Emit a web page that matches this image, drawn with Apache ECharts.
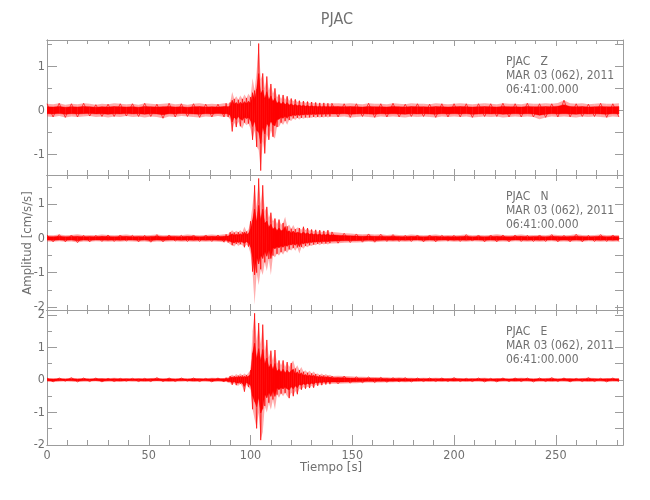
<!DOCTYPE html>
<html><head><meta charset="utf-8">
<script src="https://cdn.jsdelivr.net/npm/echarts@6/dist/echarts.min.js"></script>
<style>html,body{margin:0;padding:0;background:#fff}#c{width:650px;height:500px}</style>
</head><body><div id="c"></div>
<script>
// ---------- texts ----------
const stationTitle = 'PJAC';
const componentLabels = ['PJAC   Z', 'PJAC   N', 'PJAC   E'];
const dateLine = 'MAR 03 (062), 2011';
const timeLine = '06:41:00.000';
const xAxisTitle = 'Tiempo [s]';
const yAxisTitle = 'Amplitud [cm/s/s]';

// ---------- ticks ----------
const xTickLabels = [0, 50, 100, 150, 200, 250];
const xMinorTicks = [0,10,20,30,40,50,60,70,80,90,100,110,120,130,140,150,160,170,180,190,200,210,220,230,240,250,260,270,280];
const xExtent = [0, 283];
const yTickLabels = [[-1, 0, 1], [-2, -1, 0, 1], [-2, -1, 0, 1, 2]];
const yHalfTicks = [
  [-1, -0.5, 0, 0.5, 1, 1.5],
  [-2, -1.5, -1, -0.5, 0, 0.5, 1, 1.5],
  [-2, -1.5, -1, -0.5, 0, 0.5, 1, 1.5, 2]
];
const yExtents = [[-1.47, 1.6], [-2.09, 1.85], [-2.0, 2.15]];

// ---------- data: time (s) and amplitude envelope (max / min) per trace ----------
const times = [0,3,6,9,12,15,18,21,24,27,30,33,36,39,42,45,48,51,54,57,60,63,66,69,72,75,78,81,84,87,
88,89,90,91,92,93,94,95,96,97,98,99,100,101,102,103,104,105,106,107,108,109,110,111,112,113,114,115,116,117,118,119,120,121,122,123,124,125,126,127,128,129,130,131,132,133,134,135,136,137,138,139,140,
143,146,149,152,155,158,161,164,167,170,173,176,179,182,185,188,191,194,197,200,203,206,209,212,215,218,221,224,227,230,233,236,239,242,245,248,251,254,257,260,263,266,269,272,275,278,281];

const zHi = [0.15,0.14,0.16,0.13,0.15,0.14,0.16,0.15,0.13,0.15,0.14,0.16,0.15,0.14,0.15,0.13,0.16,0.15,0.14,0.15,0.16,0.14,0.15,0.13,0.15,0.16,0.14,0.15,0.14,0.16,
0.16,0.15,0.18,0.42,0.26,0.32,0.24,0.34,0.26,0.36,
0.28,0.38,0.3,0.73,0.45,0.88,1.52,0.7,0.84,0.5,
0.77,0.45,0.6,0.38,0.5,0.3,0.36,0.26,0.35,0.24,
0.32,0.22,0.27,0.2,0.25,0.19,0.22,0.18,0.21,0.17,
0.2,0.16,0.19,0.16,0.18,0.15,0.17,0.15,0.17,0.15,
0.16,0.15,0.16,
0.16,0.15,0.16,0.15,0.14,0.16,0.15,0.15,0.14,0.16,0.15,0.14,0.16,0.15,0.15,0.14,0.16,0.15,0.14,0.15,0.16,0.15,0.14,0.15,0.16,0.15,0.14,0.16,0.15,0.15,0.14,0.16,0.15,0.15,0.16,0.15,0.17,0.23,0.16,0.15,0.16,0.14,0.15,0.16,0.15,0.15,0.16];
const zLo = [-0.14,-0.15,-0.13,-0.16,-0.14,-0.15,-0.14,-0.13,-0.15,-0.14,-0.16,-0.14,-0.15,-0.13,-0.15,-0.14,-0.16,-0.14,-0.15,-0.18,-0.14,-0.15,-0.13,-0.14,-0.15,-0.16,-0.14,-0.15,-0.13,-0.15,
-0.14,-0.15,-0.2,-0.48,-0.28,-0.38,-0.26,-0.36,-0.41,-0.28,
-0.34,-0.3,-0.42,-0.67,-0.45,-0.83,-0.9,-1.37,-0.7,-0.98,
-0.55,-0.67,-0.45,-0.6,-0.64,-0.38,-0.37,-0.28,-0.33,-0.24,
-0.33,-0.22,-0.24,-0.18,-0.22,-0.17,-0.21,-0.17,-0.19,-0.16,
-0.18,-0.16,-0.17,-0.15,-0.17,-0.15,-0.16,-0.15,-0.16,-0.14,
-0.16,-0.14,-0.15,
-0.15,-0.14,-0.16,-0.15,-0.14,-0.15,-0.16,-0.14,-0.15,-0.14,-0.15,-0.16,-0.14,-0.15,-0.14,-0.15,-0.16,-0.14,-0.15,-0.14,-0.15,-0.14,-0.16,-0.15,-0.14,-0.15,-0.14,-0.16,-0.15,-0.14,-0.15,-0.14,-0.15,-0.2,-0.16,-0.14,-0.15,-0.14,-0.15,-0.16,-0.14,-0.15,-0.14,-0.15,-0.16,-0.14,-0.15];

const nHi = [0.1,0.09,0.11,0.09,0.1,0.12,0.09,0.1,0.09,0.11,0.1,0.09,0.1,0.11,0.09,0.1,0.09,0.1,0.11,0.09,0.1,0.1,0.09,0.11,0.1,0.09,0.1,0.11,0.1,0.12,
0.12,0.13,0.18,0.24,0.17,0.22,0.18,0.24,0.18,0.34,
0.2,0.26,0.5,0.97,1.55,0.9,1.75,1.0,1.55,0.8,
0.92,0.6,0.75,0.5,0.58,0.42,0.55,0.4,0.45,0.63,
0.35,0.4,0.28,0.39,0.27,0.32,0.3,0.25,0.34,0.24,
0.3,0.22,0.26,0.2,0.25,0.19,0.24,0.18,0.22,0.18,
0.24,0.17,0.19,
0.17,0.15,0.14,0.13,0.12,0.13,0.11,0.12,0.1,0.11,0.1,0.09,0.11,0.1,0.09,0.1,0.11,0.09,0.1,0.09,0.1,0.11,0.09,0.1,0.09,0.1,0.12,0.1,0.09,0.1,0.11,0.09,0.1,0.1,0.09,0.11,0.1,0.09,0.1,0.12,0.1,0.09,0.1,0.11,0.09,0.1,0.1];
const nLo = [-0.09,-0.1,-0.08,-0.1,-0.09,-0.12,-0.09,-0.1,-0.08,-0.09,-0.1,-0.09,-0.1,-0.08,-0.09,-0.1,-0.09,-0.11,-0.09,-0.1,-0.09,-0.08,-0.1,-0.09,-0.1,-0.09,-0.1,-0.09,-0.1,-0.11,
-0.1,-0.12,-0.17,-0.2,-0.24,-0.16,-0.22,-0.17,-0.2,-0.26,
-0.18,-0.24,-0.45,-0.97,-1.94,-1.0,-1.36,-0.9,-1.07,-0.7,
-0.95,-0.6,-1.07,-0.5,-0.55,-0.45,-0.5,-0.4,-0.47,-0.36,
-0.42,-0.32,-0.35,-0.28,-0.36,-0.26,-0.44,-0.25,-0.3,-0.22,
-0.26,-0.2,-0.22,-0.18,-0.2,-0.16,-0.2,-0.15,-0.18,-0.15,
-0.18,-0.14,-0.15,
-0.14,-0.13,-0.12,-0.12,-0.11,-0.1,-0.11,-0.1,-0.09,-0.1,-0.09,-0.1,-0.09,-0.08,-0.1,-0.09,-0.1,-0.09,-0.08,-0.1,-0.09,-0.1,-0.08,-0.09,-0.1,-0.09,-0.1,-0.09,-0.1,-0.08,-0.09,-0.1,-0.09,-0.1,-0.09,-0.08,-0.1,-0.09,-0.1,-0.09,-0.1,-0.08,-0.09,-0.1,-0.09,-0.1,-0.09];

const eHi = [0.06,0.05,0.06,0.05,0.07,0.05,0.06,0.05,0.06,0.06,0.05,0.07,0.05,0.06,0.05,0.06,0.05,0.06,0.07,0.05,0.06,0.05,0.06,0.05,0.06,0.06,0.05,0.07,0.06,0.06,
0.07,0.08,0.12,0.16,0.12,0.18,0.13,0.2,0.14,0.2,
0.15,0.22,0.3,1.5,2.05,1.2,1.75,1.1,1.7,0.9,
1.23,0.7,0.9,0.6,0.92,0.5,0.6,0.45,0.6,0.4,
0.55,0.4,0.52,0.6,0.35,0.45,0.3,0.4,0.25,0.3,
0.22,0.28,0.2,0.26,0.18,0.2,0.15,0.2,0.14,0.18,
0.13,0.16,0.12,
0.13,0.12,0.11,0.1,0.1,0.09,0.09,0.08,0.08,0.07,0.08,0.07,0.07,0.06,0.07,0.06,0.07,0.06,0.06,0.07,0.06,0.05,0.06,0.06,0.07,0.05,0.06,0.06,0.05,0.06,0.07,0.06,0.05,0.06,0.06,0.07,0.05,0.06,0.06,0.05,0.06,0.07,0.06,0.05,0.06,0.06,0.06];
const eLo = [-0.05,-0.06,-0.05,-0.04,-0.05,-0.06,-0.05,-0.05,-0.04,-0.06,-0.05,-0.05,-0.06,-0.04,-0.05,-0.05,-0.06,-0.05,-0.04,-0.05,-0.06,-0.05,-0.05,-0.04,-0.06,-0.05,-0.05,-0.06,-0.05,-0.06,
-0.06,-0.07,-0.1,-0.15,-0.11,-0.16,-0.18,-0.12,-0.2,-0.36,
-0.15,-0.22,-0.3,-0.9,-1.2,-1.49,-1.0,-1.85,-1.6,-0.8,
-1.0,-0.7,-0.92,-0.6,-0.92,-0.45,-0.55,-0.42,-0.5,-0.4,
-0.5,-0.56,-0.38,-0.5,-0.34,-0.44,-0.26,-0.3,-0.22,-0.27,
-0.2,-0.25,-0.18,-0.24,-0.15,-0.18,-0.13,-0.16,-0.12,-0.14,
-0.11,-0.13,-0.12,
-0.12,-0.11,-0.1,-0.1,-0.09,-0.08,-0.08,-0.08,-0.07,-0.07,-0.06,-0.07,-0.06,-0.06,-0.05,-0.06,-0.05,-0.06,-0.05,-0.06,-0.05,-0.06,-0.05,-0.05,-0.06,-0.05,-0.06,-0.05,-0.05,-0.06,-0.05,-0.05,-0.06,-0.05,-0.05,-0.06,-0.05,-0.05,-0.06,-0.05,-0.05,-0.06,-0.05,-0.05,-0.06,-0.05,-0.05];

const traces = [[zHi, zLo], [nHi, nLo], [eHi, eLo]];

// ---------- styling / layout ----------
const font = "'DejaVu Sans Condensed','Liberation Sans Narrow',sans-serif";
const axisColor = '#9c9c9c';
const textColor = '#707070';
const gridTops = [40, 175, 310];
const gridHeight = 135;
const gridLeft = 47, gridRight = 27;
const innerK = 0.55;

const grids = [], xAxes = [], yAxes = [], series = [], graphics = [];

function xAx(g, pos, tickVals, len, labels, name) {
  return {
    gridIndex: g, type: 'value', position: pos, min: xExtent[0], max: xExtent[1],
    splitLine: { show: false },
    axisLine: { show: true, onZero: false, lineStyle: { color: axisColor, width: 1 } },
    axisTick: { show: true, inside: true, length: len, customValues: tickVals, lineStyle: { color: axisColor } },
    axisLabel: labels ? { show: true, customValues: labels, margin: 4, color: textColor, fontFamily: font, fontSize: 12.5 } : { show: false },
    name: name || ''
  };
}
function yAx(g, pos, tickVals, len, labels) {
  return {
    gridIndex: g, type: 'value', position: pos, min: yExtents[g][0], max: yExtents[g][1],
    splitLine: { show: false },
    axisLine: { show: true, onZero: false, lineStyle: { color: axisColor, width: 1 } },
    axisTick: { show: true, inside: true, length: len, customValues: tickVals, lineStyle: { color: axisColor } },
    axisLabel: labels ? { show: true, customValues: labels, margin: 2, color: textColor, fontFamily: font, fontSize: 12.5 } : { show: false }
  };
}

traces.forEach((tr, g) => {
  grids.push({ left: gridLeft, right: gridRight, top: gridTops[g], height: gridHeight });
  const xi = xAxes.length;
  xAxes.push(xAx(g, 'bottom', xMinorTicks, 5, g === 2 ? xTickLabels : null));
  xAxes.push(xAx(g, 'bottom', xTickLabels, g === 2 ? 10 : 6, null));
  xAxes.push(xAx(g, 'top', xMinorTicks, 4, null));
  xAxes.push(xAx(g, 'top', xTickLabels, 6, null));
  const yi = yAxes.length;
  yAxes.push(yAx(g, 'left', yTickLabels[g], 10, yTickLabels[g]));
  yAxes.push(yAx(g, 'left', yHalfTicks[g], 5, null));
  yAxes.push(yAx(g, 'right', yHalfTicks[g], 8, null));

  const hi = tr[0], lo = tr[1];
  const data = times.map((t, i) => [t, lo[i], hi[i]]);
  series.push({
    type: 'custom', xAxisIndex: xi, yAxisIndex: yi, data: data, silent: true, clip: true,
    encode: { x: 0, y: [1, 2] },
    renderItem: function (params, api) {
      const i = params.dataIndex;
      if (i >= data.length - 1) return null;
      const a = data[i], b = data[i + 1];
      const outer = [api.coord([a[0], a[2]]), api.coord([b[0], b[2]]), api.coord([b[0], b[1]]), api.coord([a[0], a[1]])];
      const inner = [api.coord([a[0], a[2] * innerK]), api.coord([b[0], b[2] * innerK]), api.coord([b[0], b[1] * innerK]), api.coord([a[0], a[1] * innerK])];
      return {
        type: 'group', children: [
          { type: 'polygon', shape: { points: outer }, style: { fill: 'rgba(255,50,50,0.42)', stroke: null } },
          { type: 'polygon', shape: { points: inner }, style: { fill: '#ff0000', stroke: '#ff0000', lineWidth: 0.4 } }
        ]
      };
    }
  });
  // trace line swinging between the read maxima and minima
  series.push({
    type: 'line', xAxisIndex: xi, yAxisIndex: yi, silent: true, symbol: 'none', clip: true,
    data: times.map((t, i) => [t, i % 2 ? lo[i] : hi[i]]),
    lineStyle: { color: 'rgba(255,0,0,0.85)', width: 0.8 }
  });

  [componentLabels[g], dateLine, timeLine].forEach((txt, k) => {
    graphics.push({
      type: 'text', x: 506, y: gridTops[g] + [21.5, 35.5, 50][k],
      style: { text: txt, fill: textColor, fontFamily: font, fontSize: 12, textAlign: 'left', textVerticalAlign: 'middle' },
      silent: true
    });
  });
});

graphics.push({ type: 'text', x: 337, y: 20, style: { text: stationTitle, fill: textColor, fontFamily: font, fontSize: 16, textAlign: 'center', textVerticalAlign: 'middle' } });
graphics.push({ type: 'text', x: 331, y: 468, style: { text: xAxisTitle, fill: textColor, fontFamily: font, fontSize: 13, textAlign: 'center', textVerticalAlign: 'middle' } });
graphics.push({ type: 'text', x: 28, y: 243, rotation: Math.PI / 2, style: { text: yAxisTitle, fill: textColor, fontFamily: font, fontSize: 13, textAlign: 'center', textVerticalAlign: 'middle' } });

const chart = echarts.init(document.getElementById('c'), null, { renderer: 'canvas' });
chart.setOption({
  animation: false,
  backgroundColor: '#ffffff',
  grid: grids, xAxis: xAxes, yAxis: yAxes, series: series, graphic: graphics
});
</script></body></html>
